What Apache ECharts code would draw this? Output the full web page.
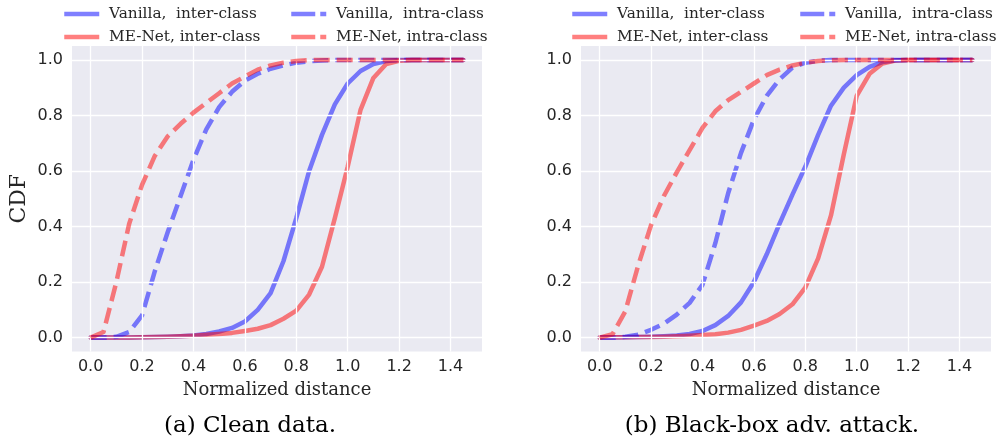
<!DOCTYPE html>
<html><head><meta charset="utf-8">
<script src="https://cdn.jsdelivr.net/npm/echarts@6/dist/echarts.min.js"></script>
<style>html,body{margin:0;padding:0;background:#fff}#c{width:1000px;height:438px}</style>
</head><body><div id="c"></div>
<script>
// ---- data ----
const xValues = [0, 0.05, 0.1, 0.15, 0.2, 0.25, 0.3, 0.35, 0.4, 0.45, 0.5, 0.55, 0.6, 0.65, 0.7, 0.75, 0.8, 0.85, 0.9, 0.95, 1.0, 1.05, 1.1, 1.15, 1.2, 1.25, 1.3, 1.35, 1.4, 1.45];
const xTicks = [0, 0.2, 0.4, 0.6, 0.8, 1.0, 1.2, 1.4];
const yTicks = [0, 0.2, 0.4, 0.6, 0.8, 1.0];
const seriesNames = ['Vanilla,  inter-class', 'ME-Net, inter-class', 'Vanilla,  intra-class', 'ME-Net, intra-class'];
const captions = ['(a) Clean data.', '(b) Black-box adv. attack.'];

// (a) Clean data
const cleanVanillaInter = [0, 0, 0, 0, 0.001, 0.002, 0.003, 0.005, 0.008, 0.013, 0.022, 0.035, 0.058, 0.1, 0.16, 0.275, 0.43, 0.6, 0.73, 0.84, 0.915, 0.96, 0.985, 0.996, 1, 1, 1, 1, 1, 1];
const cleanMeNetInter = [0, 0, 0, 0, 0.001, 0.002, 0.003, 0.005, 0.007, 0.01, 0.013, 0.017, 0.024, 0.032, 0.045, 0.068, 0.097, 0.155, 0.255, 0.43, 0.615, 0.82, 0.935, 0.985, 0.997, 1, 1, 1, 1, 1];
const cleanVanillaIntra = [0, 0, 0.003, 0.02, 0.08, 0.24, 0.38, 0.51, 0.64, 0.75, 0.83, 0.885, 0.925, 0.95, 0.968, 0.98, 0.99, 0.995, 0.998, 1, 1, 1, 1, 1, 1, 1, 1, 1, 1, 1];
const cleanMeNetIntra = [0, 0.02, 0.2, 0.41, 0.55, 0.655, 0.725, 0.77, 0.81, 0.845, 0.88, 0.915, 0.94, 0.965, 0.98, 0.99, 0.996, 0.999, 1, 1, 1, 1, 1, 1, 1, 1, 1, 1, 1, 1];

// (b) Black-box adversarial attack
const advVanillaInter = [0, 0, 0.001, 0.002, 0.003, 0.005, 0.008, 0.013, 0.024, 0.045, 0.078, 0.127, 0.2, 0.3, 0.41, 0.515, 0.615, 0.73, 0.835, 0.9, 0.945, 0.975, 0.992, 0.998, 1, 1, 1, 1, 1, 1];
const advMeNetInter = [0, 0.001, 0.001, 0.002, 0.002, 0.003, 0.005, 0.007, 0.009, 0.012, 0.018, 0.028, 0.043, 0.06, 0.085, 0.12, 0.18, 0.285, 0.44, 0.66, 0.87, 0.95, 0.987, 0.998, 1, 1, 1, 1, 1, 1];
const advVanillaIntra = [0, 0, 0.003, 0.01, 0.028, 0.05, 0.083, 0.125, 0.19, 0.34, 0.52, 0.665, 0.785, 0.87, 0.93, 0.972, 0.99, 0.997, 1, 1, 1, 1, 1, 1, 1, 1, 1, 1, 1, 1];
const advMeNetIntra = [0, 0.012, 0.095, 0.26, 0.405, 0.51, 0.595, 0.675, 0.755, 0.815, 0.855, 0.885, 0.915, 0.945, 0.965, 0.98, 0.99, 0.996, 0.999, 1, 1, 1, 1, 1, 1, 1, 1, 1, 1, 1];

// ---- styling ----
const BLUE = 'rgba(0,0,255,0.5)';
const RED = 'rgba(255,0,0,0.5)';
const SERIF = '"DejaVu Serif", serif';
const SANS = '"DejaVu Sans", sans-serif';
const TXT = '#262626';
const DASH = [16, 7];

const panels = [
  { left: 72, data: [cleanVanillaInter, cleanMeNetInter, cleanVanillaIntra, cleanMeNetIntra], legendX: [62, 289], captionX: 250 },
  { left: 581, data: [advVanillaInter, advMeNetInter, advVanillaIntra, advMeNetIntra], legendX: [570, 798], captionX: 772 }
];
const colors = [BLUE, RED, BLUE, RED];
const dashed = [false, false, true, true];

const grids = [], xAxes = [], yAxes = [], series = [], legends = [], graphics = [];
panels.forEach((p, pi) => {
  grids.push({ left: p.left, top: 46, width: 410, height: 305.5, backgroundColor: '#EAEAF2', show: true, borderWidth: 0 });
  xAxes.push({
    type: 'value', gridIndex: pi, min: -0.0725, max: 1.5225,
    axisLine: { show: false }, axisTick: { show: false }, splitLine: { show: false },
    axisLabel: { customValues: xTicks, formatter: v => v.toFixed(1), fontFamily: SANS, fontSize: 16, color: TXT, margin: 7 },
    name: 'Normalized distance', nameLocation: 'middle', nameGap: 30,
    nameTextStyle: { fontFamily: SERIF, fontSize: 18, color: TXT }
  });
  yAxes.push({
    type: 'value', gridIndex: pi, min: -0.05, max: 1.05,
    axisLine: { show: false }, axisTick: { show: false }, splitLine: { show: false },
    axisLabel: { customValues: yTicks, formatter: v => v.toFixed(1), fontFamily: SANS, fontSize: 16, color: TXT, margin: 9 },
    name: pi === 0 ? 'CDF' : '', nameLocation: 'middle', nameGap: 42,
    nameTextStyle: { fontFamily: SERIF, fontSize: 22, color: TXT }
  });
  // gridlines (white) drawn behind curves
  series.push({
    type: 'line', xAxisIndex: pi, yAxisIndex: pi, data: [], z: 1, silent: true,
    markLine: {
      silent: true, symbol: ['none', 'none'], label: { show: false }, animation: false,
      lineStyle: { color: '#ffffff', width: 1.3, type: 'solid', opacity: 1 },
      emphasis: { disabled: true },
      data: xTicks.map(v => ({ xAxis: v })).concat(yTicks.map(v => ({ yAxis: v })))
    }
  });
  p.data.forEach((arr, si) => {
    series.push({
      name: seriesNames[si], type: 'line', xAxisIndex: pi, yAxisIndex: pi, z: 2 + si,
      data: xValues.map((x, i) => [x, arr[i]]),
      showSymbol: false, symbol: 'none', smooth: false, color: colors[si],
      lineStyle: { color: colors[si], width: 4.5, type: dashed[si] ? DASH : 'solid', cap: dashed[si] ? 'butt' : 'round', join: 'round' },
      emphasis: { disabled: true }
    });
  });
  // legends: 2 columns x 2 rows
  const order = [[0, 0, 0], [2, 1, 0], [1, 0, 1], [3, 1, 1]];
  order.forEach(([si, col, row]) => {
    legends.push({
      data: [seriesNames[si]], left: p.legendX[col], top: 5 + row * 23, padding: 0,
      itemWidth: 35, itemHeight: 14, selectedMode: false,
      itemStyle: { opacity: 0 },
      lineStyle: { width: 4.5, type: dashed[si] ? [24, 5] : 'solid', cap: 'butt' },
      formatter: n => ' ' + n,
      textStyle: { fontFamily: SERIF, fontSize: 15.3, color: TXT, lineHeight: 18 }
    });
  });
  graphics.push({
    type: 'text', x: p.captionX, y: 426,
    style: { text: captions[pi], font: '23px "DejaVu Serif", serif', fill: '#000', textAlign: 'center', textVerticalAlign: 'middle' }
  });
});

const chart = echarts.init(document.getElementById('c'), null, { renderer: 'canvas' });
chart.setOption({
  animation: false,
  backgroundColor: '#ffffff',
  grid: grids, xAxis: xAxes, yAxis: yAxes, series: series, legend: legends, graphic: graphics
});
</script>
</body></html>
